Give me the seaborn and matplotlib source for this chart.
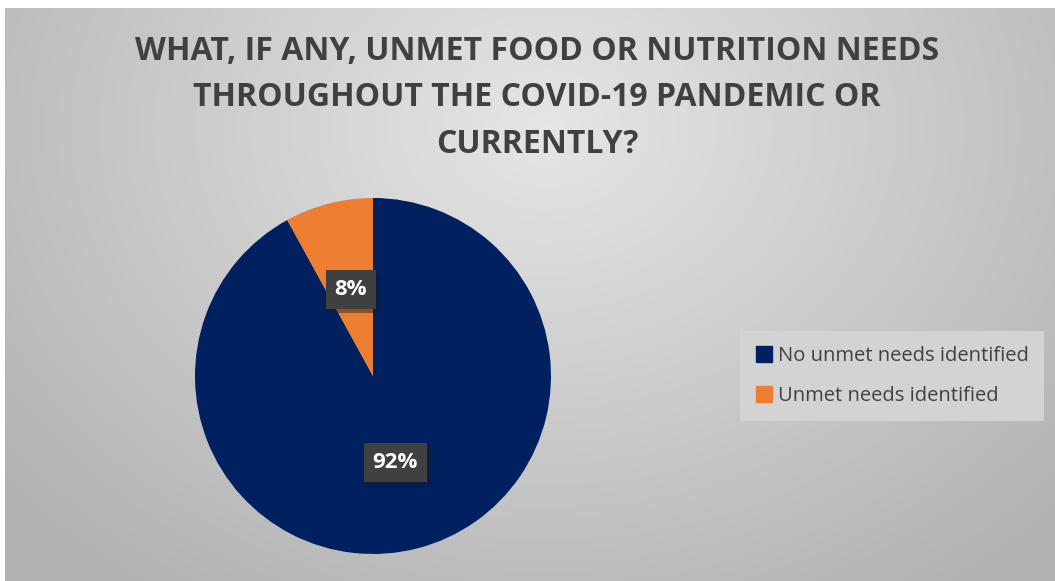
import numpy as np
import matplotlib
matplotlib.use("Agg")
import matplotlib.pyplot as plt
import matplotlib.patheffects as pe
import seaborn as sns

title = "WHAT, IF ANY, UNMET FOOD OR NUTRITION NEEDS\nTHROUGHOUT THE COVID-19 PANDEMIC OR\nCURRENTLY?"
categories = ["No unmet needs identified", "Unmet needs identified"]
shares = [92, 8]
colors = ["#002060", "#ED7D31"]

sns.set_style("white")
plt.rcParams["font.family"] = ["Open Sans", "DejaVu Sans"]

fig = plt.figure(figsize=(10.55, 5.81), dpi=100)
fig.patch.set_facecolor("white")

# gradient background panel
bg = fig.add_axes([5 / 1055, 0, 1050 / 1055, 573 / 581])
yy, xx = np.mgrid[0:573, 0:1050]
d = np.sqrt(((xx - 540) / 700.0) ** 2 + ((yy - 120) / 560.0) ** 2)
shade = 0.90 - 0.20 * np.clip(d, 0, 1)
bg.imshow(np.dstack([shade, shade, shade]), aspect="auto", interpolation="bilinear")
bg.set_axis_off()

fig.text(537 / 1055, 1 - 98 / 581, title, ha="center", va="center",
         fontsize=23, fontweight="bold", color="#404040", linespacing=1.55)

r = 178
ax = fig.add_axes([(373 - r) / 1055, (581 - 376 - r) / 581, 2 * r / 1055, 2 * r / 581])
wedges, texts, autotexts = ax.pie(
    shares, colors=colors, startangle=90, counterclock=False,
    autopct="%d%%", pctdistance=0.5, radius=1,
    wedgeprops=dict(linewidth=0))
ax.set_xlim(-1, 1)
ax.set_ylim(-1, 1)
ax.set_aspect("auto")

for t in autotexts:
    t.set_color("white")
    t.set_fontsize(16)
    t.set_fontweight("bold")
    t.set_bbox(dict(boxstyle="square,pad=0.4", facecolor="#404040", edgecolor="none"))
    t.get_bbox_patch().set_path_effects(
        [pe.SimplePatchShadow(offset=(3, -3), shadow_rgbFace="#1a1a1a", alpha=0.45), pe.Normal()])

handles = [plt.Line2D([], [], marker="s", linestyle="none", markersize=11,
                      markerfacecolor=c, markeredgecolor=c) for c in colors]
leg = fig.legend(handles, categories, loc="center left",
                 bbox_to_anchor=(740 / 1055, 1 - 376 / 581),
                 frameon=True, fancybox=False, fontsize=14.5,
                 handletextpad=0.25, handlelength=0.9, labelspacing=0.95,
                 borderpad=0.75, borderaxespad=0, labelcolor="#404040")
leg.get_frame().set_facecolor("#d3d3d3")
leg.get_frame().set_edgecolor("none")
leg.get_frame().set_alpha(1)

fig.savefig("out.png", dpi=100)
